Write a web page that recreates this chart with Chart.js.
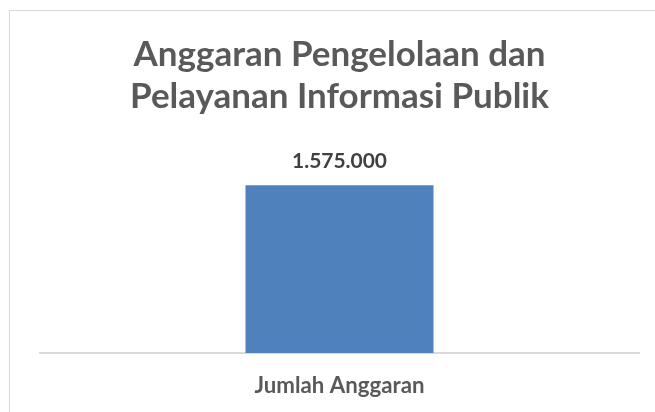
<!DOCTYPE html>
<html><head><meta charset="utf-8">
<script src="https://cdn.jsdelivr.net/npm/chart.js@4"></script>
<style>
html,body{margin:0;padding:0;background:#fff;overflow:hidden}
#frame{position:absolute;left:9px;top:10px;width:800px;height:600px;border:1px solid #d9d9d9;box-sizing:border-box}
#wrap{position:absolute;left:0;top:0;width:655px;height:412px}
</style></head>
<body>
<div id="frame"></div>
<div id="wrap"><canvas id="c" width="655" height="412"></canvas></div>
<script>
const titleLines = ["Anggaran Pengelolaan dan", "Pelayanan Informasi Publik"];
const categories = ["Jumlah Anggaran"];
const values = [1575000];
const valueLabels = ["1.575.000"];
const yMax = 2000000;

const FONT = 'Lato';
function fitSize(text, target) {
  const m = document.createElement('canvas').getContext('2d');
  m.font = 'bold 100px ' + FONT;
  return 100 * target / m.measureText(text).width;
}
const titleSize = fitSize(titleLines[0], 412);
const valueSize = fitSize(valueLabels[0], 95);
const tickSize = fitSize(categories[0], 170);

const labelPlugin = {
  id: 'valueLabels',
  afterDatasetsDraw(chart) {
    const ctx = chart.ctx;
    const meta = chart.getDatasetMeta(0);
    ctx.save();
    ctx.font = 'bold ' + valueSize + 'px ' + FONT;
    ctx.fillStyle = '#404040';
    ctx.textAlign = 'center';
    ctx.textBaseline = 'alphabetic';
    meta.data.forEach((bar, i) => {
      ctx.fillText(valueLabels[i], bar.x, bar.y - 17);
    });
    ctx.restore();
  }
};

new Chart(document.getElementById('c'), {
  type: 'bar',
  data: {
    labels: categories,
    datasets: [{
      data: values,
      backgroundColor: '#4f81bd',
      borderWidth: 0,
      categoryPercentage: 1,
      barPercentage: 0.3139
    }]
  },
  options: {
    responsive: false,
    animation: false,
    layout: { padding: { left: 40, right: 16, top: 10, bottom: 14 } },
    plugins: {
      legend: { display: false },
      tooltip: { enabled: false },
      title: {
        display: true,
        text: titleLines,
        color: '#595959',
        font: { family: FONT, size: titleSize, weight: 'bold', lineHeight: '42px' },
        padding: { top: 24, bottom: 22 }
      }
    },
    scales: {
      y: { display: false, min: 0, max: yMax },
      x: {
        grid: { display: true, drawOnChartArea: false, drawTicks: true, tickLength: 21, color: 'rgba(0,0,0,0)', tickColor: 'rgba(0,0,0,0)' },
        border: { color: '#d9d9d9', width: 2 },
        ticks: { color: '#595959', font: { family: FONT, size: tickSize, weight: 'bold', lineHeight: '20px' }, padding: 2 }
      }
    }
  },
  plugins: [labelPlugin]
});
</script>
</body></html>
